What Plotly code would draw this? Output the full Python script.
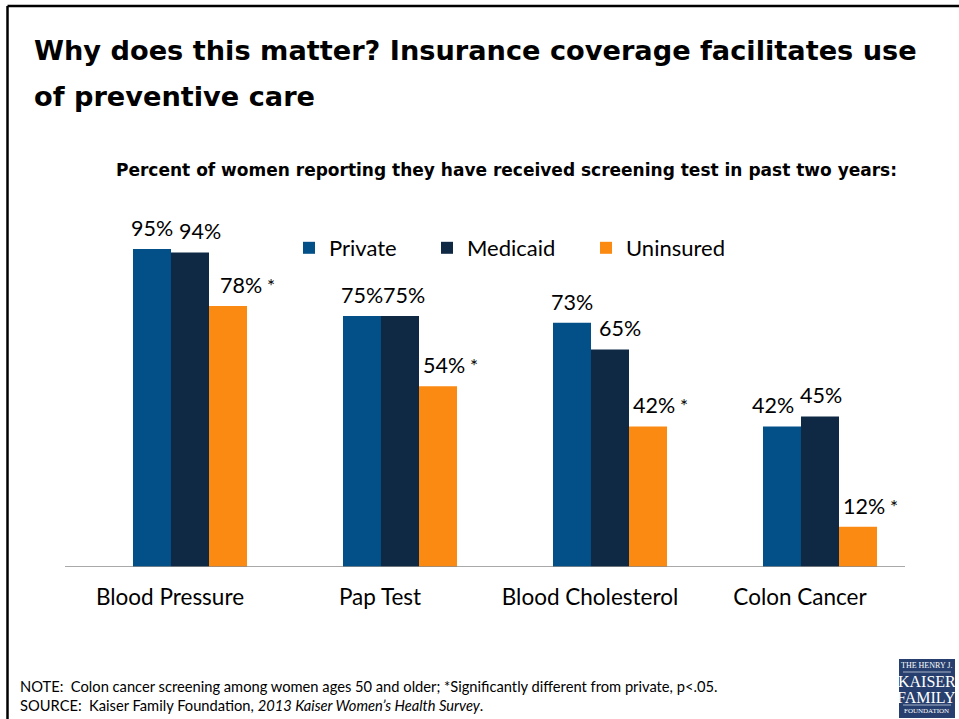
import plotly.graph_objects as go

# Screening categories and share of women screened (%) by coverage type
categories = ["Blood Pressure", "Pap Test", "Blood Cholesterol", "Colon Cancer"]
series_names = ["Private", "Medicaid", "Uninsured"]
private = [95, 75, 73, 42]
medicaid = [94, 75, 65, 45]
uninsured = [78, 54, 42, 12]
# Uninsured values significantly different from private (p<.05)
significant = [True, True, True, True]

colors = ["#035089", "#0f2944", "#fb8a13"]
FONT = "Lato"
BOLD_FONT = "DejaVu Sans"

# Figure geometry in pixels (plot area)
W, H = 959, 719
L, R, T, B = 65, 54, 200, 152
PW, PH = W - L - R, H - T - B


def px(x):
    return (x - L) / PW


def py(y):
    return (H - B - y) / PH


# Bar placement within each category slot
bar_w = 0.181
offsets = [-0.0857, 0.0952, 0.2762]
# Horizontal nudges (px) for the value labels of each series
label_dx = [[0, 0, 0, -9], [10, 4, 10, 1], [19, 12, 12, 12]]

fig = go.Figure()
legend_ids = ["legend", "legend2", "legend3"]
values_all = [private, medicaid, uninsured]
for s, (name, vals) in enumerate(zip(series_names, values_all)):
    fig.add_trace(go.Bar(
        x=[i + offsets[s] for i in range(len(categories))],
        y=vals,
        width=bar_w,
        name=name,
        marker=dict(color=colors[s], line=dict(width=0)),
        legend=legend_ids[s],
        hoverinfo="skip",
    ))

annotations = []
for s, vals in enumerate(values_all):
    for i, v in enumerate(vals):
        txt = f"{v}%"
        if s == 2 and significant[i]:
            txt += "<span style='font-size:19px'> *</span>"
        annotations.append(dict(
            x=i + offsets[s], y=v, xref="x", yref="y",
            text=txt, showarrow=False,
            xanchor="center", yanchor="bottom",
            xshift=label_dx[s][i], yshift=6,
            font=dict(family=FONT, size=21.5, color="#000000"),
        ))

# Slide title (two lines)
for line, yc in [("Why does this matter? Insurance coverage facilitates use", 51),
                 ("of preventive care", 97)]:
    annotations.append(dict(
        x=px(32), y=py(yc), xref="paper", yref="paper",
        text=f"<b>{line}</b>", showarrow=False,
        xanchor="left", yanchor="middle",
        font=dict(family=BOLD_FONT, size=27.2, color="#000000"),
    ))

# Chart subtitle
annotations.append(dict(
    x=px(506), y=py(170), xref="paper", yref="paper",
    text="<b>Percent of women reporting they have received screening test in past two years:</b>",
    showarrow=False, xanchor="center", yanchor="middle",
    font=dict(family=BOLD_FONT, size=17, color="#000000"),
))

# Footnotes
annotations.append(dict(
    x=px(18), y=py(686), xref="paper", yref="paper",
    text="NOTE:  Colon cancer screening among women ages 50 and older; *Significantly different from private, p<.05.",
    showarrow=False, xanchor="left", yanchor="middle",
    font=dict(family=FONT, size=14.7, color="#000000"),
))
annotations.append(dict(
    x=px(18), y=py(705), xref="paper", yref="paper",
    text="SOURCE:  Kaiser Family Foundation, <i>2013 Kaiser Women\u2019s Health Survey</i>.",
    showarrow=False, xanchor="left", yanchor="middle",
    font=dict(family=FONT, size=14.7, color="#000000"),
))

# Foundation logo block
logo_lines = [("THE HENRY J.", 8, 665), ("KAISER", 16, 681), ("FAMILY", 16, 697), ("FOUNDATION", 7, 711)]
for t, sz, yc in logo_lines:
    annotations.append(dict(
        x=px(927), y=py(yc), xref="paper", yref="paper",
        text=t, showarrow=False, xanchor="center", yanchor="middle",
        font=dict(family="Liberation Serif", size=sz, color="#ffffff"),
    ))

shapes = [
    # slide frame (top and left edges)
    dict(type="line", xref="paper", yref="paper", x0=px(7.5), x1=px(960), y0=py(6), y1=py(6),
         line=dict(color="#000000", width=2.5)),
    dict(type="line", xref="paper", yref="paper", x0=px(7.5), x1=px(7.5), y0=py(6), y1=py(720),
         line=dict(color="#000000", width=2.5)),
    # logo background
    dict(type="rect", xref="paper", yref="paper", x0=px(899), x1=px(955), y0=py(659), y1=py(718),
         fillcolor="#263f6e", line=dict(width=0)),
    dict(type="line", xref="paper", yref="paper", x0=px(903), x1=px(951), y0=py(672), y1=py(672),
         line=dict(color="#ffffff", width=0.6)),
    dict(type="line", xref="paper", yref="paper", x0=px(903), x1=px(951), y0=py(705), y1=py(705),
         line=dict(color="#ffffff", width=0.6)),
]

legend_style = dict(
    orientation="h", xanchor="left", yanchor="middle",
    font=dict(family=FONT, size=22, color="#000000"),
    bgcolor="rgba(0,0,0,0)", borderwidth=0,
    itemclick=False, itemdoubleclick=False,
)
legend_x = [289, 427, 586]

fig.update_layout(
    width=W, height=H,
    margin=dict(l=L, r=R, t=T, b=B, pad=0),
    paper_bgcolor="#ffffff", plot_bgcolor="#ffffff",
    barmode="overlay",
    showlegend=True,
    legend=dict(x=px(legend_x[0]), y=py(248), **legend_style),
    legend2=dict(x=px(legend_x[1]), y=py(248), **legend_style),
    legend3=dict(x=px(legend_x[2]), y=py(248), **legend_style),
    xaxis=dict(
        range=[-0.5, len(categories) - 0.5],
        tickmode="array", tickvals=list(range(len(categories))), ticktext=categories,
        showgrid=False, zeroline=False, showline=False,
        ticks="", ticklabelstandoff=14,
        tickfont=dict(family=FONT, size=22.5, color="#000000"),
        fixedrange=True,
    ),
    yaxis=dict(
        range=[0, PH / 3.347], visible=False, fixedrange=True,
    ),
    annotations=annotations,
    shapes=shapes + [
        # category axis baseline
        dict(type="line", xref="paper", yref="y", x0=0, x1=1, y0=0, y1=0,
             line=dict(color="#8c8c8c", width=1.5)),
    ],
)

fig.write_html("out.html")
